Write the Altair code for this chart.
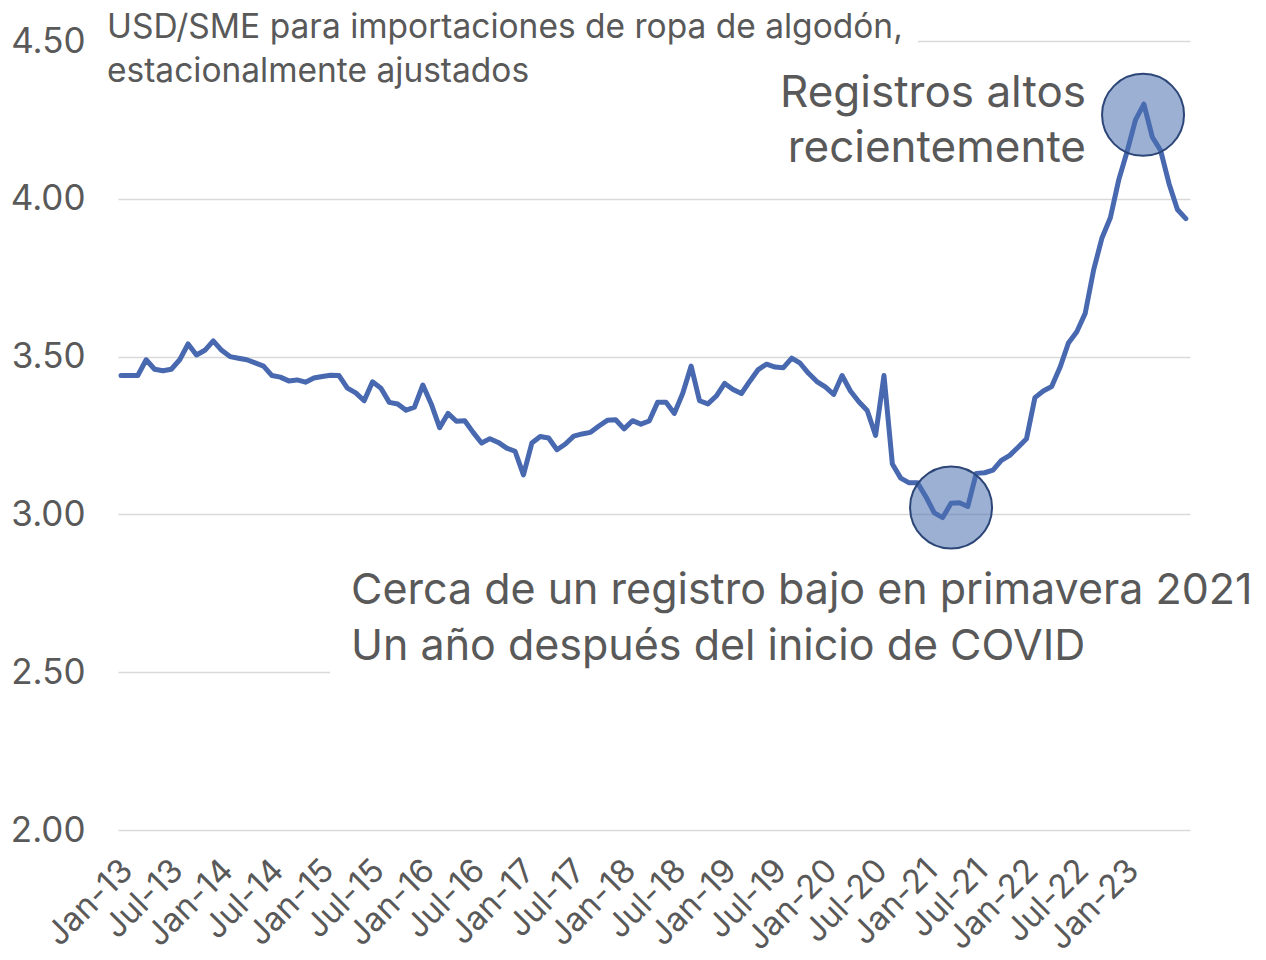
import json
import altair as alt
import pandas as pd

# ---- data (monthly, Jan-13 .. Aug-23) ----
values = [
    3.44, 3.44, 3.44, 3.49, 3.46, 3.455, 3.46, 3.49, 3.54, 3.505, 3.52, 3.55,
    3.52, 3.50, 3.495, 3.49, 3.48, 3.47, 3.44, 3.435, 3.423, 3.426, 3.419, 3.432,
    3.437, 3.441, 3.44, 3.40, 3.385, 3.36, 3.42, 3.40, 3.355, 3.35, 3.33, 3.34,
    3.41, 3.35, 3.275, 3.32, 3.295, 3.297, 3.26, 3.226, 3.24, 3.228, 3.21, 3.20,
    3.125, 3.226, 3.247, 3.242, 3.205, 3.223, 3.248, 3.255, 3.26, 3.28, 3.298, 3.30,
    3.271, 3.297, 3.286, 3.296, 3.355, 3.355, 3.32, 3.384, 3.47, 3.36, 3.35, 3.375,
    3.415, 3.396, 3.383, 3.422, 3.459, 3.476, 3.467, 3.465, 3.495, 3.479, 3.447, 3.421,
    3.404, 3.38, 3.44, 3.391, 3.357, 3.329, 3.25, 3.44, 3.16, 3.115, 3.10, 3.10,
    3.056, 3.005, 2.99, 3.035, 3.037, 3.025, 3.13, 3.132, 3.14, 3.171, 3.187, 3.213,
    3.24, 3.37, 3.391, 3.405, 3.466, 3.543, 3.579, 3.637, 3.774, 3.876, 3.94, 4.06,
    4.15, 4.25, 4.30, 4.196, 4.153, 4.048, 3.966, 3.937,
]
months = list(range(len(values)))

tick_labels = ["Jan-13", "Jul-13", "Jan-14", "Jul-14", "Jan-15", "Jul-15", "Jan-16",
               "Jul-16", "Jan-17", "Jul-17", "Jan-18", "Jul-18", "Jan-19", "Jul-19",
               "Jan-20", "Jul-20", "Jan-21", "Jul-21", "Jan-22", "Jul-22", "Jan-23"]
tick_months = [6 * k for k in range(len(tick_labels))]

y_ticks = [2.0, 2.5, 3.0, 3.5, 4.0, 4.5]

# highlighted points (circles)
circle_months = [99.0, 121.9]
circle_values = [3.022, 4.266]

title_text = "USD/SME para importaciones de ropa de algodón,\nestacionalmente ajustados"
high_text = "Registros altos\nrecientemente"
low_text = "Cerca de un registro bajo en primavera 2021\nUn año después del inicio de COVID"

FONT = "Inter"
GREY = "#595959"

df = pd.DataFrame({"m": months, "v": values})
circ = pd.DataFrame({"m": circle_months, "v": circle_values})

xscale = alt.Scale(domain=[-0.36, 127.5], nice=False, zero=False)
yscale = alt.Scale(domain=[2.0, 4.5], nice=False, zero=False)

label_expr = json.dumps(tick_labels) + "[round(datum.value / 6)]"

x_axis = alt.Axis(values=tick_months, labelExpr=label_expr, labelAngle=-45,
                  labelAlign="right", labelBaseline="middle", labelPadding=35,
                  labelOffset=6, labelFontSize=33, labelColor=GREY, labelFont=FONT,
                  grid=False, domain=False, ticks=False, title=None, labelOverlap=False)
y_axis = alt.Axis(values=y_ticks, format=".2f", labelFontSize=35, labelColor=GREY,
                  labelFont=FONT, labelPadding=33, grid=True, gridColor="#d9d9d9",
                  gridWidth=1.3, domain=False, ticks=False, title=None)

line = alt.Chart(df).mark_line(color="#4868B0", strokeWidth=5, strokeJoin="round",
                               strokeCap="round").encode(
    x=alt.X("m:Q", scale=xscale, axis=x_axis),
    y=alt.Y("v:Q", scale=yscale, axis=y_axis),
)

title_box = alt.Chart(pd.DataFrame({"k": [0]})).mark_rect(color="white").encode(
    x=alt.value(-18), x2=alt.value(800), y=alt.value(-41), y2=alt.value(49))
low_box = alt.Chart(pd.DataFrame({"k": [0]})).mark_rect(color="white").encode(
    x=alt.value(212), x2=alt.value(1150), y=alt.value(514), y2=alt.value(660))

title_mark = alt.Chart(pd.DataFrame({"t": [title_text]})).mark_text(
    font=FONT, fontSize=33.5, color=GREY, align="left", baseline="middle",
    lineBreak="\n", lineHeight=44).encode(
    x=alt.value(-11), y=alt.value(-13), text="t:N")

high_mark = alt.Chart(pd.DataFrame({"t": [high_text]})).mark_text(
    font=FONT, fontSize=44, color=GREY, align="right", baseline="middle",
    lineBreak="\n", lineHeight=55).encode(
    x=alt.value(968), y=alt.value(53), text="t:N")

low_mark = alt.Chart(pd.DataFrame({"t": [low_text]})).mark_text(
    font=FONT, fontSize=43, color=GREY, align="left", baseline="middle",
    lineBreak="\n", lineHeight=56).encode(
    x=alt.value(233), y=alt.value(550), text="t:N")

circles = alt.Chart(circ).mark_point(shape="circle", filled=True, size=6724,
                                     fill="#4A6FB0", fillOpacity=0.55,
                                     stroke="#2C4677", strokeWidth=2,
                                     strokeOpacity=1, opacity=1).encode(
    x=alt.X("m:Q", scale=xscale),
    y=alt.Y("v:Q", scale=yscale),
)

chart = alt.layer(title_box, low_box, line, title_mark, high_mark, low_mark,
                  circles).properties(
    width=1072, height=789,
    padding={"left": 110, "top": 33, "right": 66, "bottom": 128},
    autosize=alt.AutoSizeParams(type="none"),
    view=alt.ViewBackground(stroke="transparent"),
).configure_view(stroke="transparent").configure_axisX(grid=False).configure(
    background="white")

chart.save("out.html", embed_options={"renderer": "svg", "actions": False})
